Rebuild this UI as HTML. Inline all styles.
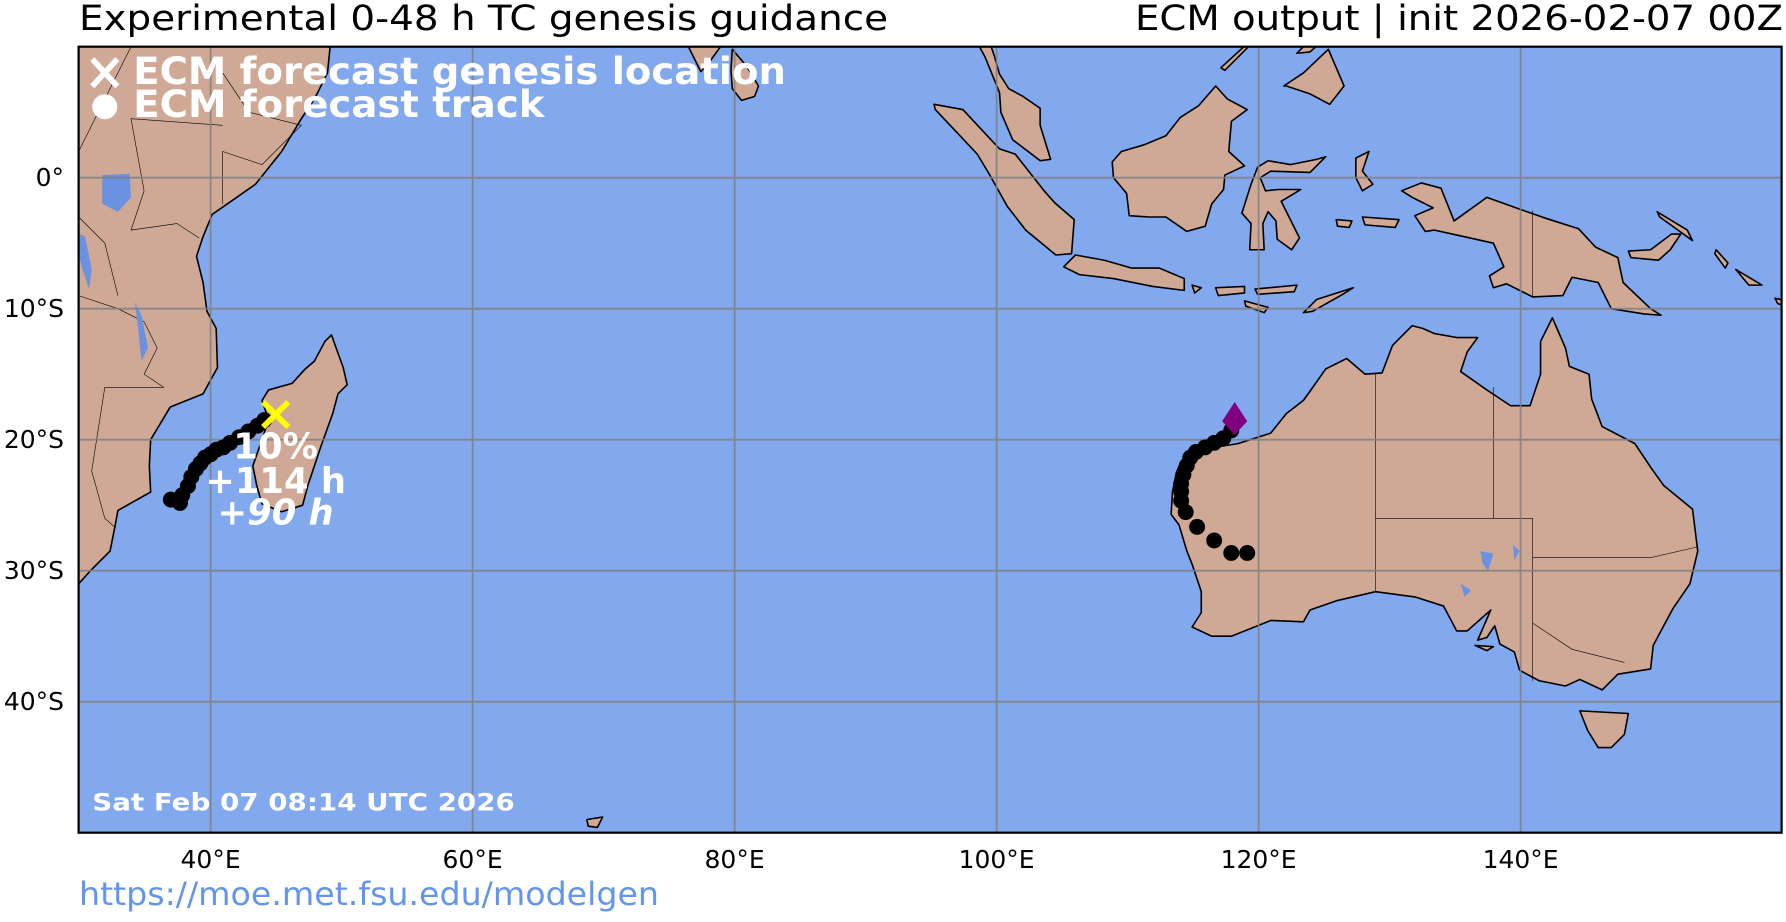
<!DOCTYPE html>
<html><head><meta charset="utf-8"><style>
html,body{margin:0;padding:0;background:#fff;}
svg{display:block;font-family:"DejaVu Sans","Liberation Sans",sans-serif;}
</style></head><body>
<svg width="1786" height="922" viewBox="0 0 1786 922" xmlns="http://www.w3.org/2000/svg">
<defs><clipPath id="c"><rect x="78.6" y="46.7" width="1703" height="786"/></clipPath></defs>
<rect x="78.6" y="46.7" width="1703" height="786" fill="#82a8ee"/>
<g clip-path="url(#c)">
<g transform="translate(78.6,46.7) scale(13.1) translate(-30,10)" fill="#cfa996" stroke="#000" stroke-width="1.6" stroke-linejoin="round">
<polygon vector-effect="non-scaling-stroke" points="28,-12 49.2,-12 49.2,-10 49,-8 48,-6 47,-4.5 45.5,-2 43.5,0.5 41.5,1.9 40.2,2.8 39.5,4.5 39,6 39.5,8 39.8,10.2 40.5,11.5 40.6,14.5 39.5,16.5 37,17.5 35.5,20 35.4,22 35.5,24 33,25.4 32.8,26.5 32.4,28.5 31,29.9 30,31 28,32"/>
<polygon vector-effect="non-scaling-stroke" points="49.3,12 50.2,14.5 50.5,15.8 49.8,16.5 49.4,18 48.5,20.5 47.5,23.5 47.1,25 45.5,25.5 44,24.9 43.6,23.5 43.3,22 44,20 44.5,18.5 44,17 44.5,16.2 46.3,15.7 47.3,14.6 48,14 48.8,12.5"/>
<polygon vector-effect="non-scaling-stroke" points="76.3,-10.5 77.5,-8.1 78.2,-8.9 79,-10 79.5,-10.5"/>
<polygon vector-effect="non-scaling-stroke" points="79.9,-9.8 81,-8.5 81.9,-7 81.6,-6.2 80.6,-5.9 79.9,-6.8 79.8,-8.2"/>
<polygon vector-effect="non-scaling-stroke" points="98.5,-10.5 99.2,-9.2 100.3,-6.5 100.4,-5 101.3,-2.9 103.4,-1.3 104.2,-1.4 103.4,-4 103.4,-5.3 102.1,-6.2 101,-6.8 100.3,-7.9 99.9,-9.3 99.5,-10.5"/>
<polygon vector-effect="non-scaling-stroke" points="95.3,-5.6 97.5,-5.2 100.3,-2.2 101.5,-1.8 103.7,1 104.5,1.9 106,3.2 105.8,5.8 104.6,5.9 102.3,4 100.9,2.2 99.5,-0.3 98.6,-1.8 97,-3.5 95.4,-5.2"/>
<polygon vector-effect="non-scaling-stroke" points="109.6,-2 111.3,-2.5 113,-3.2 114.1,-4.6 115.5,-5.5 116.8,-7 117.7,-6 119.2,-5.2 118,-4.3 117.8,-2 119,-0.9 117.5,-0.2 117.4,0.9 116.5,2 116,3.7 114.6,4.1 113,3 111.7,3 110.2,2.9 110,1.2 109,0 108.9,-1.2"/>
<polygon vector-effect="non-scaling-stroke" points="105.2,6.8 106.1,5.9 108.3,6.3 110.4,6.9 112.5,6.9 114.4,7.7 114.4,8.6 112,8.3 109,7.7 106.4,7.4"/>
<polygon vector-effect="non-scaling-stroke" points="115,8.2 115.7,8.4 115.2,8.8"/>
<polygon vector-effect="non-scaling-stroke" points="116.8,8.4 119,8.3 119,8.8 117,9"/>
<polygon vector-effect="non-scaling-stroke" points="119.8,8.5 123,8.2 122.8,8.7 120,8.9"/>
<polygon vector-effect="non-scaling-stroke" points="119,9.4 120.8,9.9 120.5,10.3 119.1,9.8"/>
<polygon vector-effect="non-scaling-stroke" points="123.5,10.3 124.5,9.3 127.3,8.4 126.5,8.9 124.2,10.2"/>
<polygon vector-effect="non-scaling-stroke" points="118.8,2.7 119.5,0.5 120,-0.8 120.8,-1.3 122.5,-1 124.5,-1.4 125.2,-1.6 124,-0.4 121,-0.5 120.2,0 120.6,1 121.6,0.9 123.3,0.9 121.8,1.8 122.5,3.2 123.2,4.6 122.6,5.5 121.5,4.7 121.4,3.3 120.8,2.6 120.4,3.5 120.5,5.5 119.4,5.5 119.5,3.5"/>
<polygon vector-effect="non-scaling-stroke" points="127.5,-1.5 128.5,-2 128,-0.5 128.8,0.5 128,1 127.5,0"/>
<polygon vector-effect="non-scaling-stroke" points="128,3 130.8,3.2 130.5,3.8 128.2,3.6"/>
<polygon vector-effect="non-scaling-stroke" points="126,3.2 127.2,3.3 127,3.8 126.1,3.7"/>
<polygon vector-effect="non-scaling-stroke" points="122,-7 123.5,-8 125.4,-9.8 126.6,-7 125.5,-5.6 124,-6.4 122.2,-7"/>
<polygon vector-effect="non-scaling-stroke" points="117.2,-8.4 119.5,-10.5 119.8,-10.5 117.5,-8.2"/>
<polygon vector-effect="non-scaling-stroke" points="123,-9.5 124,-10.5 125,-10.5 124,-9.6"/>
<polygon vector-effect="non-scaling-stroke" points="131,1 132.5,0.4 134,0.8 135,3.3 137.5,1.5 140,2.4 142,3.1 144.5,3.9 145.8,5.3 147.5,6.1 147.9,8 150,10 150.8,10.5 149.5,10.4 147,10 146,8 144,7.6 143.3,9 141,9.1 139,8.1 138,8.4 137.7,7.5 138.8,6.8 138,5 135.3,4.4 133.5,4 132.8,4.1 132,2.9 133.4,2.3 131.8,1.5"/>
<polygon vector-effect="non-scaling-stroke" points="148.3,5.6 150,5.5 151.6,4.3 152.3,4.3 151.5,5.5 150.6,6.3 148.5,6.1"/>
<polygon vector-effect="non-scaling-stroke" points="150.5,2.6 152.8,4 153.2,4.8 152.5,4.3 150.7,3"/>
<polygon vector-effect="non-scaling-stroke" points="155,5.5 155.9,6.5 155.7,6.9 154.9,5.8"/>
<polygon vector-effect="non-scaling-stroke" points="156.5,7 158.5,8.2 157.5,8.2"/>
<polygon vector-effect="non-scaling-stroke" points="159.5,9.2 160.8,9.5 160.5,9.9 159.7,9.6"/>
<polygon vector-effect="non-scaling-stroke" points="160.5,8.3 161.2,9.2 160.9,9.3"/>
<polygon vector-effect="non-scaling-stroke" points="114.1,21.8 116,20.7 118.5,20.3 121,19.5 122.2,18 123.5,17 124,16.3 125.2,14.6 126.8,13.8 128.2,15 129.5,14.9 130.3,12.8 131.8,11.3 132.6,11.5 133.5,11.9 135.2,12.2 136.8,12.2 136,13.3 135.5,14.8 137.5,16.2 139.3,17.4 140.8,17.4 141.6,15 141.6,12.5 142.5,10.7 143.5,13 143.8,14.4 145.3,15 145.5,16.9 146.3,19 148.8,20.3 150,22.1 151,23.5 153.2,25.3 153.6,28.5 153,31 151.7,32.9 150.2,35.7 150,37.5 147.5,37.9 146.3,39.1 144.6,38.3 143.5,38.8 141.5,38.4 140,37.6 139.6,36.2 138.5,35.6 138.1,34.2 137.5,35.1 136.8,35.3 137.8,33 136,34.6 135.2,34.6 134.2,32.7 132,32 129,31.6 126,32.3 124,33 123.5,33.9 121,33.8 118,35 116.5,35 115,34.3 115.7,33.2 115.7,31.6 115,29.5 114.6,28.5 114,26.5 113.4,25.7 113.5,24 113.8,22.5"/>
<polygon vector-effect="non-scaling-stroke" points="144.6,40.7 148.3,40.9 148,42.5 147,43.5 146,43.5 145.2,42.2"/>
<polygon vector-effect="non-scaling-stroke" points="136.6,35.7 138,35.8 137.5,36.1"/>
<polygon vector-effect="non-scaling-stroke" points="68.8,49 70,48.8 69.6,49.6 68.9,49.5"/>
</g>
<g transform="translate(78.6,46.7) scale(13.1) translate(-30,10)" fill="none" stroke="#000" stroke-width="0.6">
<polyline vector-effect="non-scaling-stroke" points="129,14.9 129,31.6"/>
<polyline vector-effect="non-scaling-stroke" points="138,16 138,26 141,26 141,38.4"/>
<polyline vector-effect="non-scaling-stroke" points="129,26 138,26"/>
<polyline vector-effect="non-scaling-stroke" points="141,29 150,29 153.5,28.2"/>
<polyline vector-effect="non-scaling-stroke" points="141,34 144,36 148,37"/>
<polyline vector-effect="non-scaling-stroke" points="141,2.5 141,9.1"/>
<polyline vector-effect="non-scaling-stroke" points="41,-4 34,-4.5 35,1 34,4 37.5,3.5 39.2,4.6"/>
<polyline vector-effect="non-scaling-stroke" points="30,1 30,-2 34,-10 40,-11"/>
<polyline vector-effect="non-scaling-stroke" points="30,9 33,10 35,11 36,13 35,15 36.5,16 32,16 31,22.4 32,26 32.8,26.7"/>
<polyline vector-effect="non-scaling-stroke" points="30,3 32,5 33,9"/>
<polyline vector-effect="non-scaling-stroke" points="41,-8 43,-5 47,-4 44,-1 41,-2 41,2"/>
</g>
<g transform="translate(78.6,46.7) scale(13.1) translate(-30,10)" fill="#6a92e0" stroke="none">
<polygon points="31.8,-0.2 33.9,-0.3 34,1.5 33,2.6 31.8,2"/>
<polygon points="29.5,4 30.5,4.5 31,7 30.8,8.5 30.3,7"/>
<polygon points="34.3,9.5 34.8,10.5 35.3,13 34.8,14 34.6,12"/>
<polygon points="137,28.5 138,28.7 137.6,30 137.2,29.5"/>
<polygon points="139.5,28 140,28.5 139.6,29.2"/>
<polygon points="135.5,31 136.3,31.5 135.8,32"/>
</g>
</g>
<g stroke="#808080" stroke-width="1.8" opacity="0.85">
<line x1="210.6" y1="46.7" x2="210.6" y2="832.7"/><line x1="472.6" y1="46.7" x2="472.6" y2="832.7"/>
<line x1="734.6" y1="46.7" x2="734.6" y2="832.7"/><line x1="996.6" y1="46.7" x2="996.6" y2="832.7"/>
<line x1="1258.6" y1="46.7" x2="1258.6" y2="832.7"/><line x1="1520.6" y1="46.7" x2="1520.6" y2="832.7"/>
<line x1="78.6" y1="177.7" x2="1781.6" y2="177.7"/><line x1="78.6" y1="308.7" x2="1781.6" y2="308.7"/>
<line x1="78.6" y1="439.7" x2="1781.6" y2="439.7"/><line x1="78.6" y1="570.7" x2="1781.6" y2="570.7"/>
<line x1="78.6" y1="701.7" x2="1781.6" y2="701.7"/>
</g>
<g transform="scale(1.139,1.1355)">
<g fill="#000">
<circle cx="150" cy="440" r="7"/><circle cx="158" cy="443" r="7"/><circle cx="160" cy="436" r="7"/><circle cx="165" cy="428" r="7"/><circle cx="168" cy="420" r="7"/><circle cx="172" cy="413" r="7"/><circle cx="176" cy="408" r="7"/><circle cx="180" cy="403" r="7"/><circle cx="185" cy="400" r="7"/><circle cx="190" cy="396" r="7"/><circle cx="196" cy="394" r="7"/><circle cx="202" cy="390" r="7"/><circle cx="210" cy="385" r="7"/><circle cx="218" cy="380" r="7"/><circle cx="226" cy="375" r="7"/><circle cx="232" cy="370" r="7"/>
<circle cx="1081" cy="379" r="7"/><circle cx="1074" cy="386" r="7"/><circle cx="1066" cy="390" r="7"/><circle cx="1058" cy="394" r="7"/><circle cx="1050" cy="398" r="7"/><circle cx="1045" cy="403" r="7"/><circle cx="1042" cy="410" r="7"/><circle cx="1039" cy="418" r="7"/><circle cx="1037" cy="426" r="7"/><circle cx="1037" cy="433" r="7"/><circle cx="1037" cy="441" r="7"/><circle cx="1041" cy="451" r="7"/><circle cx="1051" cy="464" r="7"/><circle cx="1066" cy="476" r="7"/><circle cx="1081" cy="487" r="7"/><circle cx="1095" cy="487" r="7"/>
</g>
<polygon points="1084,354 1095,371 1084,383 1073,371" fill="#800080"/>
<g stroke="#ffff00" stroke-width="5"><line x1="231" y1="354" x2="253" y2="376"/><line x1="253" y1="354" x2="231" y2="376"/></g>
<g fill="#fff" font-weight="bold" font-size="31" text-anchor="middle">
<text x="242" y="404">10%</text>
<text x="242" y="434">+114 h</text>
<text x="242" y="462" font-style="italic">+90 h</text>
</g>
<g stroke="#fff" stroke-width="5"><line x1="81" y1="52" x2="103" y2="76"/><line x1="103" y1="52" x2="81" y2="76"/></g>
<circle cx="92" cy="94" r="11" fill="#fff"/>
<g fill="#fff" font-weight="bold" font-size="33">
<text x="117" y="74" textLength="573" lengthAdjust="spacingAndGlyphs">ECM forecast genesis location</text>
<text x="117" y="103" textLength="361" lengthAdjust="spacingAndGlyphs">ECM forecast track</text>
</g>
<text x="81" y="714" fill="#fff" font-weight="bold" font-size="21" textLength="371" lengthAdjust="spacingAndGlyphs">Sat Feb 07 08:14 UTC 2026</text>
</g>
<rect x="78.6" y="46.7" width="1703" height="786" fill="none" stroke="#000" stroke-width="2.2"/>
<text x="79" y="30" font-size="35" fill="#000" textLength="809" lengthAdjust="spacingAndGlyphs">Experimental 0-48 h TC genesis guidance</text>
<text x="1783" y="30" font-size="35" fill="#000" text-anchor="end" textLength="648" lengthAdjust="spacingAndGlyphs">ECM output | init 2026-02-07 00Z</text>
<g font-size="25" fill="#000" text-anchor="middle">
<text x="210.6" y="868">40°E</text><text x="472.6" y="868">60°E</text><text x="734.6" y="868">80°E</text>
<text x="996.6" y="868">100°E</text><text x="1258.6" y="868">120°E</text><text x="1520.6" y="868">140°E</text>
</g>
<g font-size="25" fill="#000" text-anchor="end">
<text x="64" y="186">0°</text><text x="64" y="317">10°S</text><text x="64" y="448">20°S</text>
<text x="64" y="579">30°S</text><text x="64" y="710">40°S</text>
</g>
<text x="79" y="881" font-size="32" fill="#6495ed" textLength="580" lengthAdjust="spacingAndGlyphs" dominant-baseline="auto" transform="translate(0,24)">https://moe.met.fsu.edu/modelgen</text>
</svg>
</body></html>
